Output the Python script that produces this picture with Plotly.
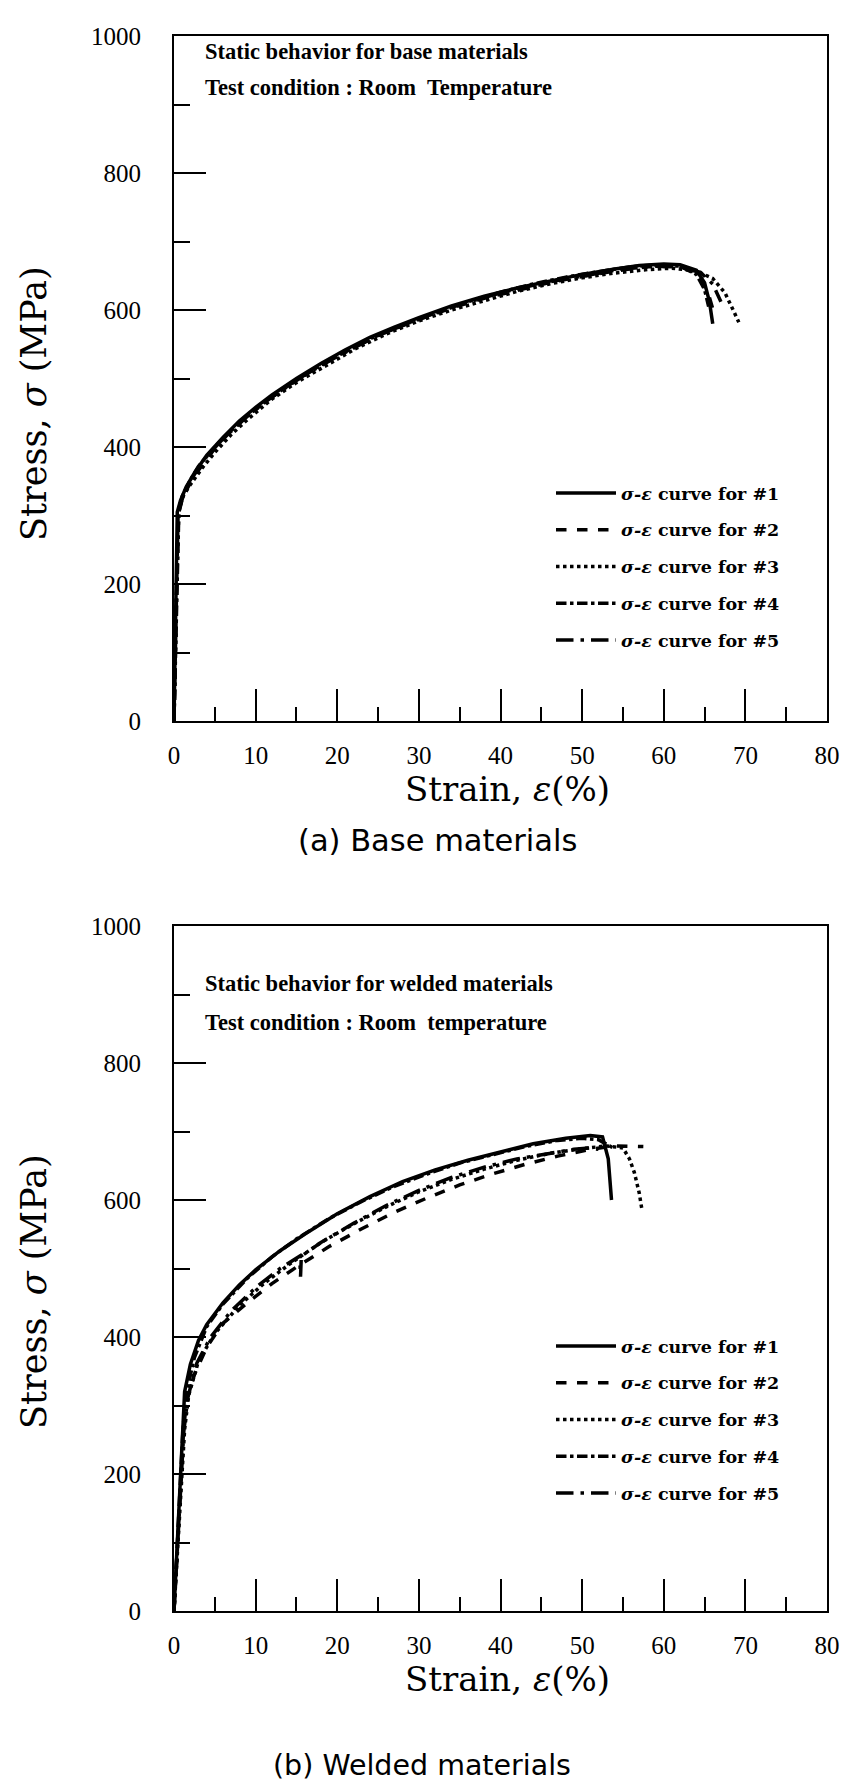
import plotly.graph_objects as go

# ---------------- data: base materials ----------------
base_strain_1 = [0, 0.3, 0.4, 0.8, 1.5, 2.5, 4, 6, 8, 10, 12, 15, 18, 21, 24, 27, 30, 34, 38, 42, 46, 50, 54, 57, 60, 62, 64, 65, 65.6, 66.0]
base_stress_1 = [0, 200, 305, 322, 342, 362, 388, 414, 438, 458, 476, 500, 522, 542, 560, 575, 589, 606, 620, 632, 642, 652, 660, 665, 667, 666, 658, 640, 612, 580]
base_strain_2 = [0, 0.35, 0.5, 1.0, 2, 3, 5, 7, 9, 11, 14, 17, 20, 23, 26, 30, 34, 38, 42, 46, 50, 54, 58, 61, 63, 64.5, 65.5, 66.3]
base_stress_2 = [0, 210, 300, 325, 348, 366, 398, 424, 446, 464, 490, 512, 533, 551, 568, 586, 603, 617, 629, 640, 649, 657, 663, 664, 660, 648, 622, 590]
base_strain_3 = [0, 0.3, 0.6, 1.2, 2, 3.5, 5, 7, 9, 12, 15, 18, 22, 26, 30, 34, 38, 42, 46, 50, 54, 58, 61, 64, 66, 67.5, 68.5, 69.2]
base_stress_3 = [0, 190, 310, 330, 345, 370, 392, 418, 440, 470, 494, 515, 542, 565, 584, 600, 614, 627, 638, 647, 654, 659, 661, 657, 646, 625, 600, 582]
base_strain_4 = [0, 0.4, 0.6, 1.0, 2, 3, 5, 8, 11, 14, 17, 20, 24, 28, 32, 36, 40, 44, 48, 52, 56, 59, 62, 64, 65, 65.5]
base_stress_4 = [0, 220, 310, 328, 352, 372, 400, 436, 465, 490, 513, 533, 558, 578, 596, 612, 626, 638, 648, 656, 663, 666, 664, 652, 630, 605]
base_strain_5 = [0, 0.35, 0.5, 1.2, 2.5, 4, 6, 9, 12, 16, 20, 25, 30, 35, 40, 45, 50, 55, 59, 62, 64.5, 66, 67]
base_stress_5 = [0, 205, 300, 333, 360, 386, 412, 445, 473, 505, 532, 563, 587, 608, 625, 639, 650, 660, 664, 663, 655, 638, 612]

# ---------------- data: welded materials ----------------
weld_strain_1 = [0, 0.5, 1.0, 1.3, 2, 3, 4, 6, 8, 10, 13, 16, 20, 24, 28, 32, 36, 40, 44, 48, 51, 52.5, 53.2, 53.6]
weld_stress_1 = [0, 120, 260, 320, 360, 395, 418, 450, 476, 498, 526, 550, 580, 605, 627, 644, 658, 670, 682, 690, 694, 692, 660, 600]
weld_strain_2 = [0, 0.6, 1.2, 1.6, 2.5, 4, 6, 9, 12, 15, 19, 23, 27, 31, 35, 39, 43, 47, 51, 54, 56, 57.5]
weld_stress_2 = [0, 130, 270, 310, 345, 385, 420, 450, 478, 502, 532, 558, 582, 603, 622, 638, 652, 664, 674, 679, 679, 678]
weld_strain_3 = [0, 0.7, 1.3, 1.8, 3, 5, 8, 11, 14, 18, 22, 26, 30, 34, 38, 42, 46, 50, 53, 55, 55.8, 56.4, 57, 57.3]
weld_stress_3 = [0, 140, 265, 315, 365, 405, 446, 478, 505, 538, 565, 590, 612, 630, 645, 658, 668, 675, 679, 676, 660, 640, 610, 588]
weld_strain_4 = [0, 0.5, 1.1, 1.5, 2.5, 4, 6, 9, 12, 15, 19, 23, 27, 31, 35, 39, 43, 47, 50, 52, 53, 53.8]
weld_stress_4 = [0, 125, 265, 318, 370, 415, 448, 486, 517, 543, 573, 598, 620, 638, 654, 666, 678, 687, 690, 688, 682, 676]
weld_strain_5 = [0, 0.6, 1.2, 1.7, 2.8, 4.5, 7, 10, 13, 15.4, 15.5, 15.6, 18, 22, 26, 30, 34, 38, 42, 46, 49, 51, 52]
weld_stress_5 = [0, 128, 262, 312, 362, 400, 438, 472, 500, 518, 488, 518, 538, 566, 592, 614, 633, 648, 660, 668, 674, 676, 674]

series_names = ["<i>σ-ε</i> curve for #1", "<i>σ-ε</i> curve for #2", "<i>σ-ε</i> curve for #3",
                "<i>σ-ε</i> curve for #4", "<i>σ-ε</i> curve for #5"]
x_tick_vals = [0, 10, 20, 30, 40, 50, 60, 70, 80]
y_tick_vals = [0, 200, 400, 600, 800, 1000]

dashes = ["solid", "dash", "dot", "dashdot", "longdashdot"]
base_sets = [(base_strain_1, base_stress_1), (base_strain_2, base_stress_2), (base_strain_3, base_stress_3),
             (base_strain_4, base_stress_4), (base_strain_5, base_stress_5)]
weld_sets = [(weld_strain_1, weld_stress_1), (weld_strain_2, weld_stress_2), (weld_strain_3, weld_stress_3),
             (weld_strain_4, weld_stress_4), (weld_strain_5, weld_stress_5)]

fig = go.Figure()
for i, (sx, sy) in enumerate(base_sets):
    fig.add_trace(go.Scatter(x=sx, y=sy, mode="lines", name=series_names[i],
                             line=dict(color="black", width=3.5, dash=dashes[i]),
                             xaxis="x", yaxis="y", legend="legend", legendgroup=f"a{i}"))
for i, (sx, sy) in enumerate(weld_sets):
    fig.add_trace(go.Scatter(x=sx, y=sy, mode="lines", name=series_names[i],
                             line=dict(color="black", width=3.5, dash=dashes[i]),
                             xaxis="x2", yaxis="y2", legend="legend2", legendgroup=f"b{i}"))

W, H = 845, 1789
def px(x):
    return x / W
def py(y):
    return 1 - y / H

tickfont = dict(family="Liberation Serif", size=25, color="black")

def xaxis_cfg(anchor):
    return dict(range=[0, 80], domain=[px(174), px(827)], anchor=anchor, automargin=False,
                tickvals=x_tick_vals, ticktext=[str(v) for v in x_tick_vals],
                ticks="inside", ticklen=32, tickwidth=2, tickcolor="black",
                minor=dict(dtick=5, tick0=0, ticks="inside", ticklen=14, tickwidth=2, tickcolor="black"),
                showline=True, linewidth=2, linecolor="black", mirror=True,
                showgrid=False, zeroline=False, tickfont=tickfont, ticklabelstandoff=11)

def yaxis_cfg(anchor, top, bottom):
    return dict(range=[0, 1000], domain=[py(bottom), py(top)], anchor=anchor, automargin=False,
                tickvals=y_tick_vals, ticktext=[str(v) for v in y_tick_vals],
                ticks="inside", ticklen=32, tickwidth=2, tickcolor="black",
                minor=dict(dtick=100, tick0=0, ticks="inside", ticklen=16, tickwidth=2, tickcolor="black"),
                showline=True, linewidth=2, linecolor="black", mirror=True,
                showgrid=False, zeroline=False, tickfont=tickfont, ticklabelstandoff=26)

legend_cfg = dict(font=dict(family="DejaVu Serif", size=17.5, color="black", weight="bold"),
                  bgcolor="rgba(0,0,0,0)", borderwidth=0, xanchor="left", yanchor="top",
                  traceorder="grouped", tracegroupgap=11, itemwidth=60)

fig.update_layout(
    width=W, height=H, margin=dict(l=0, r=0, t=0, b=0, autoexpand=False),
    paper_bgcolor="white", plot_bgcolor="white",
    xaxis=xaxis_cfg("y"), yaxis=yaxis_cfg("x", 36, 721),
    xaxis2=xaxis_cfg("y2"), yaxis2=yaxis_cfg("x2", 926, 1611),
    legend=dict(x=px(551), y=py(475), **legend_cfg),
    legend2=dict(x=px(551), y=py(1328), **legend_cfg),
    showlegend=True,
)

serif_bold = dict(family="Liberation Serif", size=22.5, color="black")
title_font = dict(family="DejaVu Serif", size=34, color="black")
ytitle_font = dict(family="DejaVu Serif", size=35, color="black")
cap_font_a = dict(family="DejaVu Sans", size=30.5, color="black")
cap_font_b = dict(family="DejaVu Sans", size=28.5, color="black")

ann = [
    dict(text="<b>Static behavior for base materials</b>", x=px(203), y=py(51), xanchor="left", font=serif_bold),
    dict(text="<b>Test condition : Room\u00a0 Temperature</b>", x=px(203), y=py(87), xanchor="left", font=serif_bold),
    dict(text="<b>Static behavior for welded materials</b>", x=px(203), y=py(983), xanchor="left", font=serif_bold),
    dict(text="<b>Test condition : Room\u00a0 temperature</b>", x=px(203), y=py(1022), xanchor="left", font=serif_bold),
    dict(text="Strain, <i>ε</i>(%)", x=px(507), y=py(789), font=title_font),
    dict(text="Strain, <i>ε</i>(%)", x=px(507), y=py(1679), font=title_font),
    dict(text="Stress, <i>σ</i> (MPa)", x=px(34), y=py(404), textangle=-90, font=ytitle_font),
    dict(text="Stress, <i>σ</i> (MPa)", x=px(34), y=py(1292), textangle=-90, font=ytitle_font),
    dict(text="(a) Base materials", x=px(437), y=py(840), font=cap_font_a),
    dict(text="(b) Welded materials", x=px(422), y=py(1765), font=cap_font_b),
]
for a in ann:
    a.update(xref="paper", yref="paper", showarrow=False, yanchor="middle")
    a.setdefault("xanchor", "center")
fig.update_layout(annotations=ann)

fig.write_html("out.html")
